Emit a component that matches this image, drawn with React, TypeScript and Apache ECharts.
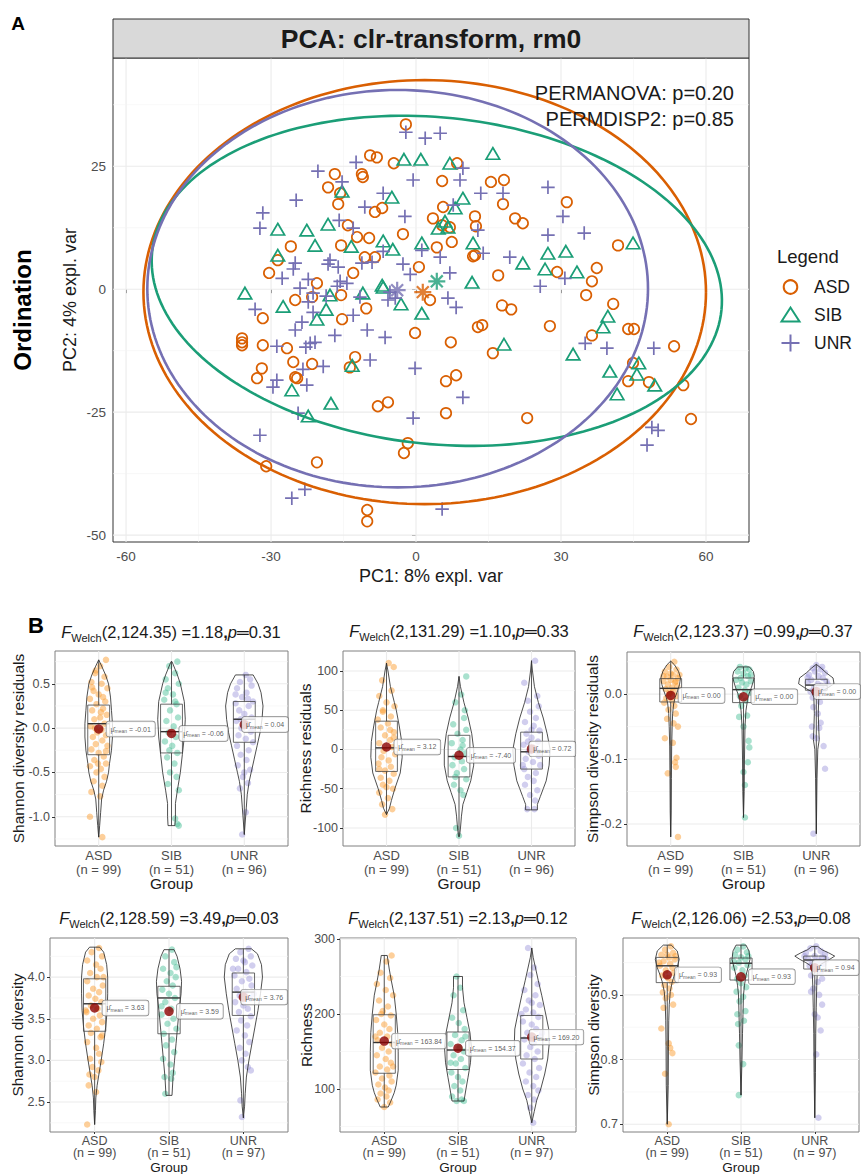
import React, { useEffect, useRef } from 'react';
import * as echarts from 'echarts';

// ================= DATA =================
const GROUPS = ['ASD', 'SIB', 'UNR'];
const PCA_COLORS = ['#D95F02', '#1B9E77', '#7570B3'];
const JITTER_COLORS = ['rgba(250,158,50,0.62)', 'rgba(70,190,150,0.58)', 'rgba(155,150,218,0.58)'];

// Panel A: PCA ordination (PC1, PC2)
const PCA_X_TICKS = [-60, -30, 0, 30, 60];
const PCA_X_MINOR = [-45, -15, 15, 45];
const PCA_Y_TICKS = [-50, -25, 0, 25];
const PCA_Y_MINOR = [-37.5, -12.5, 12.5, 37.5];
const PCA_X_RANGE = [-62.7, 68.9];
const PCA_Y_RANGE = [-51.4, 47.0];

const ASD_PCA = [[-2.1,33.5],[-9.5,27.2],[-8.1,26.8],[-4.6,25.6],[-16.8,23.4],[-11.2,23.4],[-11.0,22.8],[-18.2,20.7],[-15.7,19.5],[-16.1,17.3],[5.4,22.0],[8.5,25.6],[5.6,16.7],[-14.1,13.0],[-12.2,10.6],[-9.7,10.4],[-8.5,15.7],[-7.0,16.5],[3.5,14.4],[7.0,12.6],[12.2,14.8],[12.4,12.8],[-25.9,8.7],[-15.5,8.9],[-10.6,6.5],[-8.5,6.5],[-2.7,11.2],[4.3,8.5],[7.4,9.6],[12.2,6.9],[-28.6,5.9],[-30.4,3.3],[-20.5,1.2],[-13.0,3.3],[0.6,4.5],[-25.0,-2.2],[-31.7,-5.9],[-15.5,-1.2],[-15.3,-6.1],[-10.3,-3.9],[-0.2,-8.9],[7.2,-10.8],[12.8,-7.7],[-36.0,-10.0],[-36.0,-10.8],[-36.0,-11.4],[-31.7,-11.4],[-26.7,-12.0],[-25.4,-14.8],[-21.5,-15.2],[-12.6,-13.8],[-13.7,-15.9],[-31.9,-16.1],[-32.9,-18.1],[-25.0,-17.9],[-7.9,-23.8],[-5.8,-23.0],[6.2,-18.7],[8.3,-17.5],[6.2,-25.2],[-1.7,-31.3],[-2.5,-33.3],[-31.0,-36.0],[-20.5,-35.2],[-10.1,-44.9],[-10.1,-47.2],[15.5,21.8],[18.2,22.2],[18.0,17.3],[31.2,17.7],[20.5,14.4],[22.1,13.4],[41.8,8.9],[29.2,3.5],[37.4,4.3],[17.0,2.8],[36.4,1.6],[35.2,-1.2],[40.8,-3.0],[17.8,-3.3],[19.7,-4.1],[13.7,-7.3],[27.7,-7.5],[15.9,-13.0],[36.4,-9.4],[43.9,-8.1],[45.1,-8.1],[53.4,-11.6],[44.9,-15.0],[43.9,-18.7],[48.2,-18.9],[55.3,-19.5],[23.0,-26.2],[56.9,-26.4],[-24.6,-18.1],[11.8,6.7],[5.4,13.0],[-21.5,-1.6],[2.9,-2.2]];
const SIB_PCA = [[-2.5,26.4],[1.0,26.4],[7.0,25.6],[15.9,27.6],[-15.3,19.9],[-5.0,18.7],[9.7,18.5],[8.1,16.5],[-28.6,12.2],[-22.6,12.0],[-18.2,13.2],[4.6,12.4],[6.0,13.8],[-20.9,8.9],[-13.4,8.7],[-6.8,9.8],[-4.8,8.1],[1.2,9.4],[11.8,9.4],[-28.6,6.9],[11.6,1.4],[-7.0,0.8],[-35.4,-0.8],[-27.5,-3.5],[-17.8,-1.2],[-18.6,-4.1],[-20.5,-6.1],[-11.0,-0.8],[-6.8,0.4],[-3.1,-3.0],[1.2,-4.9],[-13.2,-15.5],[-25.7,-20.5],[-17.6,-23.2],[-22.3,-25.8],[22.1,5.3],[27.3,7.3],[31.0,7.7],[26.7,4.1],[33.3,3.5],[44.9,9.4],[18.2,-11.2],[39.7,-5.5],[38.7,-7.7],[32.5,-13.2],[46.1,-15.0],[40.1,-16.7],[45.7,-17.3],[49.4,-19.5],[41.6,-21.3],[6.6,12.6]];
const UNR_PCA = [[-2.1,31.9],[1.9,30.7],[5.0,31.7],[9.7,24.6],[-12.4,25.8],[-20.3,24.0],[-15.3,21.8],[-0.6,22.2],[9.1,22.2],[-6.8,19.5],[-24.8,18.1],[-10.6,16.7],[7.7,17.1],[-31.7,15.5],[-32.3,12.4],[-15.9,14.0],[-13.0,12.4],[-2.3,14.8],[-6.8,7.7],[1.2,7.9],[-25.0,5.3],[-25.4,4.1],[-27.7,2.2],[-17.8,5.9],[-18.2,5.1],[-16.1,4.5],[-22.3,2.0],[-15.7,1.6],[-14.3,1.2],[-2.7,5.1],[-1.2,3.0],[5.0,6.5],[7.0,3.3],[-9.1,5.5],[-16.3,0.6],[-33.3,-4.1],[-21.3,-0.8],[-22.3,-2.6],[-21.3,-4.7],[-11.6,-1.6],[-13.0,-5.3],[-10.1,-8.3],[6.6,-1.8],[8.3,-3.7],[-6.4,-9.8],[-16.8,-9.4],[-25.0,-8.3],[-23.6,-6.7],[-28.8,-11.6],[-22.8,-11.8],[-21.9,-11.0],[-20.9,-10.8],[-19.2,-15.7],[-9.5,-14.4],[-0.2,-16.1],[-28.8,-18.5],[-29.6,-19.9],[-23.4,-16.3],[-22.6,-19.5],[9.7,-22.0],[-0.6,-26.2],[-24.4,-25.2],[-32.3,-29.7],[-25.7,-42.5],[-23.0,-40.7],[5.4,-44.7],[13.4,19.5],[18.0,19.5],[27.3,20.7],[30.4,14.8],[12.8,12.0],[27.3,11.0],[34.8,11.4],[13.9,7.3],[19.4,6.5],[30.8,2.2],[25.7,0.6],[35.0,-11.0],[39.5,-12.0],[49.2,-12.0],[48.8,-28.1],[50.1,-28.7],[47.8,-31.7],[-11.2,5.3],[-5.4,-0.6],[-4.3,-1.8],[-5.8,-2.2],[-18.6,-1.4],[-24.0,0.2]];
const PCA_CENTROIDS = [[1.4, -0.6], [4.3, 1.6], [-3.9, -0.2]];
// [centerX, centerY, radiusX, radiusY, rotation]
const PCA_ELLIPSES = [[1.8, -0.6, 58.2, 43.1, 0], [4.3, 1.7, 59.2, 33.2, -0.1], [-3.8, 0.1, 51.8, 40.4, 0]];
const PCA_TESTS = ['PERMANOVA: p=0.20', 'PERMDISP2: p=0.85'];

// Panel B: group sizes, Welch test text
const ROW1_N = [99, 51, 96];
const ROW2_N = [99, 51, 97];
const WELCH_ARGS = ['2,124.35', '2,131.29', '2,123.37', '2,128.59', '2,137.51', '2,126.06'];
const WELCH_F = ['1.18', '1.10', '0.99', '3.49', '2.13', '2.53'];
const WELCH_P = ['0.31', '0.33', '0.37', '0.03', '0.12', '0.08'];
const B_Y_TITLES = ['Shannon diversity residuals', 'Richness residuals', 'Simpson diversity residuals', 'Shannon diversity', 'Richness', 'Simpson diversity'];
const B_Y_TICKS = [[-1, -0.5, 0, 0.5], [-100, -50, 0, 50, 100], [-0.2, -0.1, 0], [2.5, 3, 3.5, 4], [100, 200, 300], [0.7, 0.8, 0.9]];
const B_Y_MINOR = [[-1.25, -0.75, -0.25, 0.25, 0.75], [-75, -25, 25, 75], [-0.15, -0.05, 0.05], [2.25, 2.75, 3.25, 3.75, 4.25], [50, 150, 250], [0.75, 0.85, 0.95]];
const B_Y_RANGE = [[-1.33, 0.87], [-123, 125.4], [-0.234, 0.065], [2.14, 4.47], [42.7, 301.3], [0.688, 0.988]];
const B_Y_DECIMALS = [1, 0, 1, 1, 0, 1];

// violin outlines: [value, half-width]
const shannonResViolin = [
  [[0.77,0],[0.7,3],[0.6,7],[0.5,10],[0.35,12],[0.2,13],[0.05,14],[-0.1,14],[-0.25,13],[-0.4,11],[-0.5,10],[-0.6,8],[-0.7,5],[-0.8,3],[-0.95,2],[-1.1,1],[-1.23,0]],
  [[0.75,0.5],[0.6,6],[0.5,9],[0.3,13],[0.1,14],[-0.1,13],[-0.3,11],[-0.5,9],[-0.7,6],[-0.85,4],[-1.0,4],[-1.1,3.5]],
  [[0.6,9],[0.5,14],[0.4,17],[0.25,19],[0.1,18],[-0.05,16],[-0.2,13],[-0.35,10],[-0.5,7],[-0.6,5],[-0.75,3],[-0.9,2],[-1.2,0]],
];
const shannonResBox = [[-1.23, -0.30, 0.05, 0.26, 0.77], [-1.10, -0.28, -0.04, 0.27, 0.75], [-1.20, -0.16, 0.10, 0.30, 0.60]];
const shannonResMean = [-0.01, -0.06, 0.04];
const shannonResPoints = [
  [[0.1,0.77],[0.02,0.7],[-0.05,0.62],[0.08,0.58],[-0.1,0.52],[0.04,0.5],[0.12,0.45],[-0.07,0.42],[0.0,0.38],[-0.12,0.33],[0.09,0.3],[-0.03,0.27],[0.06,0.22],[-0.09,0.2],[0.11,0.15],[0.02,0.12],[-0.06,0.1],[0.08,0.05],[-0.11,0.02],[0.04,-0.02],[-0.02,-0.05],[0.1,-0.08],[-0.08,-0.1],[0.05,-0.14],[-0.04,-0.18],[0.12,-0.2],[-0.1,-0.24],[0.0,-0.28],[0.07,-0.32],[-0.06,-0.36],[0.1,-0.4],[-0.12,-0.43],[0.03,-0.46],[-0.03,-0.5],[0.08,-0.55],[-0.07,-0.6],[0.05,-0.65],[-0.1,-0.72],[0.02,-0.77],[-0.12,-1.0],[0.05,-1.23],[-0.04,0.65],[0.06,0.35],[-0.05,0.0],[0.1,-0.26],[-0.09,0.46],[0.03,0.18],[-0.01,-0.4]],
  [[0.08,0.75],[-0.03,0.7],[0.05,0.62],[-0.08,0.55],[0.1,0.5],[-0.05,0.45],[0.02,0.38],[-0.1,0.32],[0.07,0.27],[-0.02,0.2],[0.09,0.12],[-0.07,0.08],[0.03,0.02],[-0.04,-0.05],[0.06,-0.1],[-0.09,-0.15],[0.01,-0.2],[0.08,-0.28],[-0.06,-0.33],[0.04,-0.4],[-0.02,-0.5],[0.07,-0.55],[-0.05,-0.63],[0.1,-0.7],[0.05,-1.02],[0.08,-1.08],[0.1,-1.1],[-0.08,0.4],[0.05,0.3],[-0.03,-0.25]],
  [[0.02,0.6],[0.08,0.55],[-0.06,0.52],[0.1,0.48],[-0.1,0.45],[0.03,0.4],[-0.03,0.35],[0.12,0.3],[-0.12,0.28],[0.06,0.25],[-0.07,0.2],[0.0,0.16],[0.1,0.12],[-0.11,0.08],[0.04,0.05],[-0.04,0.0],[0.09,-0.04],[-0.08,-0.08],[0.02,-0.12],[0.12,-0.16],[-0.1,-0.2],[0.06,-0.25],[-0.05,-0.3],[0.03,-0.36],[-0.09,-0.42],[0.08,-0.47],[-0.02,-0.55],[0.05,-0.62],[-0.06,-0.68],[0.02,-0.95],[-0.03,-1.2],[0.05,0.33],[-0.05,0.1],[0.1,-0.02],[-0.12,0.38],[0.0,-0.5]],
];

const richnessResViolin = [
  [[110,0],[100,1.5],[80,4],[60,8],[50,10],[30,13],[10,15.5],[-10,16],[-30,14],[-50,8.5],[-65,5],[-75,3],[-83,0]],
  [[93,0],[80,1.5],[60,5],[40,9.5],[20,13],[0,15],[-20,15],[-40,12],[-55,8],[-70,4],[-85,2.5],[-100,1.5],[-111,0.5]],
  [[113,0],[100,1],[80,3],[60,7],[40,12],[20,16],[0,19],[-20,18],[-40,15],[-50,12],[-60,9],[-70,6],[-77,6]],
];
const richnessResBox = [[-83, -28, 2, 36, 110], [-110, -35, -9, 18, 93], [-77, -25, -3, 22, 113]];
const richnessResMean = [3.12, -7.40, 0.72];
const richnessResPoints = [
  [[0.03,110],[0.1,105],[-0.06,88],[0.07,75],[-0.1,68],[0.0,60],[0.11,55],[-0.05,48],[0.06,42],[-0.12,38],[0.02,33],[-0.08,28],[0.1,22],[-0.02,18],[0.05,12],[-0.1,8],[0.08,3],[-0.04,-2],[0.12,-6],[-0.07,-10],[0.03,-14],[-0.11,-18],[0.06,-22],[-0.02,-27],[0.1,-31],[-0.08,-36],[0.04,-40],[-0.05,-45],[0.09,-50],[-0.1,-55],[0.02,-62],[-0.06,-70],[0.08,-76],[-0.02,-83],[0.05,25],[-0.05,50],[0.0,-48],[0.1,15],[-0.1,-25]],
  [[0.1,93],[0.03,70],[-0.05,60],[0.07,40],[-0.08,32],[0.1,25],[-0.02,20],[0.05,12],[-0.1,8],[0.02,0],[0.09,-5],[-0.06,-10],[0.04,-15],[-0.09,-20],[0.07,-25],[-0.03,-30],[0.1,-38],[-0.07,-45],[0.02,-52],[0.06,-58],[-0.04,-100],[0.0,-110],[0.05,5],[-0.05,-35],[0.08,50]],
  [[0.05,113],[-0.1,85],[0.08,68],[-0.05,62],[0.1,55],[-0.02,48],[0.06,40],[-0.09,35],[0.03,30],[0.11,24],[-0.07,20],[0.0,15],[0.09,10],[-0.11,6],[0.04,2],[-0.04,-3],[0.1,-8],[-0.08,-12],[0.02,-16],[0.12,-20],[-0.1,-25],[0.06,-30],[-0.05,-35],[0.03,-40],[-0.09,-45],[0.08,-52],[-0.02,-58],[0.05,-65],[-0.06,-76],[0.04,-76],[0.0,25],[-0.05,10],[0.08,-2],[-0.12,-20]],
];

const simpsonResViolin = [
  [[0.051,0],[0.045,4],[0.035,8],[0.025,10],[0.015,9],[0.005,7],[-0.005,4.5],[-0.015,3],[-0.03,2],[-0.05,1.5],[-0.08,1],[-0.13,0.7],[-0.18,0.5],[-0.22,0]],
  [[0.042,6],[0.035,10],[0.028,11],[0.02,10],[0.01,8],[0.0,5.5],[-0.01,4],[-0.025,2.5],[-0.05,1.5],[-0.1,1],[-0.15,0.7],[-0.19,0]],
  [[0.046,0],[0.04,5],[0.033,10],[0.025,17],[0.016,18],[0.01,12],[0.004,5],[-0.005,2.5],[-0.03,2],[-0.055,2.5],[-0.07,3],[-0.085,1.5],[-0.13,0.7],[-0.215,0]],
];
const simpsonResBox = [[-0.22, -0.012, 0.009, 0.024, 0.051], [-0.19, -0.013, 0.007, 0.025, 0.042], [-0.215, 0.006, 0.014, 0.023, 0.046]];
const simpsonResMean = [-0.002, -0.004, 0.004];
const simpsonResPoints = [
  [[0.05,0.05],[-0.02,0.042],[0.08,0.038],[-0.08,0.035],[0.03,0.03],[-0.05,0.027],[0.1,0.025],[0.0,0.022],[-0.1,0.02],[0.06,0.018],[-0.04,0.015],[0.09,0.012],[0.02,0.01],[-0.07,0.008],[0.04,0.005],[-0.02,0.002],[0.08,-0.003],[-0.06,-0.006],[0.02,-0.01],[-0.09,-0.013],[0.05,-0.018],[-0.03,-0.024],[0.07,-0.03],[-0.05,-0.038],[0.04,-0.045],[0.1,-0.05],[-0.08,-0.068],[0.03,-0.075],[0.08,-0.098],[0.06,-0.105],[0.07,-0.112],[-0.04,-0.122],[0.1,-0.22],[0.0,0.032],[-0.1,0.028],[0.07,0.02],[-0.01,0.0],[0.12,0.03]],
  [[-0.05,0.042],[0.03,0.04],[0.08,0.038],[-0.08,0.035],[0.0,0.032],[0.06,0.028],[-0.04,0.025],[0.1,0.02],[-0.02,0.018],[0.04,0.015],[-0.07,0.01],[0.02,0.006],[0.08,0.002],[-0.05,-0.003],[0.03,-0.01],[-0.03,-0.018],[0.05,-0.033],[-0.06,-0.035],[0.0,-0.05],[0.07,-0.072],[0.08,-0.082],[0.06,-0.105],[0.0,-0.12],[0.02,-0.14],[0.02,-0.19],[0.1,0.03],[-0.1,0.022]],
  [[0.0,0.045],[-0.05,0.04],[0.06,0.038],[0.12,0.033],[-0.1,0.03],[0.03,0.028],[0.09,0.025],[-0.07,0.022],[0.14,0.02],[-0.12,0.018],[0.02,0.016],[0.07,0.013],[-0.03,0.01],[0.1,0.007],[-0.08,0.004],[0.04,0.0],[-0.05,-0.005],[0.05,-0.012],[-0.04,-0.02],[0.02,-0.03],[-0.06,-0.05],[0.04,-0.052],[-0.05,-0.065],[0.0,-0.068],[0.06,-0.044],[0.1,-0.08],[0.12,-0.115],[-0.04,-0.215],[0.08,0.042],[-0.12,0.026],[0.16,0.015],[-0.02,0.035]],
];

const shannonViolin = [
  [[4.36,5],[4.3,9],[4.15,12],[4.0,13],[3.8,13],[3.6,12.5],[3.4,11],[3.2,9],[3.0,6.5],[2.85,4.5],[2.7,2.5],[2.55,1.2],[2.4,0.8],[2.23,0]],
  [[4.33,5],[4.25,8],[4.1,11],[3.95,12.5],[3.8,12],[3.6,10],[3.4,8.5],[3.2,7],[3.0,5.5],[2.8,4],[2.58,3]],
  [[4.34,8],[4.28,14],[4.15,18],[4.0,19],[3.8,17],[3.6,14.5],[3.4,11.5],[3.2,8.5],[3.0,5.5],[2.8,3],[2.6,1.8],[2.45,1.2],[2.31,0]],
];
const shannonBox = [[2.23, 3.35, 3.68, 3.98, 4.36], [2.58, 3.32, 3.75, 3.89, 4.33], [2.31, 3.54, 3.82, 4.05, 4.34]];
const shannonMean = [3.63, 3.59, 3.76];
const shannonPoints = [
  [[0.06,4.35],[-0.04,4.3],[0.1,4.25],[-0.1,4.2],[0.02,4.15],[0.08,4.1],[-0.06,4.05],[0.03,4.0],[-0.1,3.95],[0.11,3.9],[-0.02,3.86],[0.06,3.82],[-0.08,3.78],[0.01,3.74],[0.09,3.7],[-0.05,3.66],[0.04,3.62],[-0.11,3.58],[0.07,3.54],[-0.02,3.5],[0.1,3.46],[-0.08,3.42],[0.03,3.38],[-0.05,3.33],[0.08,3.28],[-0.1,3.22],[0.02,3.15],[0.06,3.08],[-0.06,3.02],[0.09,2.98],[-0.03,2.92],[0.05,2.88],[-0.07,2.83],[0.0,2.8],[-0.08,2.7],[0.02,2.62],[-0.1,2.23],[0.12,4.0],[-0.12,3.6],[0.1,3.3]],
  [[0.04,4.33],[-0.05,4.25],[0.07,4.18],[-0.08,4.1],[0.02,4.05],[0.09,4.0],[-0.03,3.95],[0.05,3.9],[-0.09,3.85],[0.0,3.8],[0.08,3.75],[-0.05,3.7],[0.03,3.62],[-0.1,3.55],[0.06,3.5],[-0.02,3.44],[0.1,3.38],[-0.07,3.32],[0.04,3.25],[-0.04,3.18],[0.07,3.1],[-0.08,3.02],[0.02,2.95],[0.05,2.85],[-0.06,2.8],[0.03,2.78],[-0.05,2.6],[0.1,4.12],[-0.1,3.65]],
  [[0.07,4.34],[-0.04,4.3],[0.1,4.25],[-0.1,4.22],[0.02,4.18],[0.12,4.14],[-0.07,4.1],[0.04,4.06],[-0.12,4.02],[0.08,3.98],[-0.02,3.95],[0.11,3.9],[-0.09,3.86],[0.03,3.82],[-0.05,3.78],[0.09,3.74],[-0.11,3.7],[0.0,3.66],[0.06,3.62],[-0.06,3.58],[0.1,3.53],[-0.03,3.48],[0.05,3.42],[-0.09,3.36],[0.02,3.3],[0.08,3.22],[-0.05,3.15],[0.03,3.08],[-0.02,3.0],[0.06,2.92],[0.1,2.88],[-0.04,2.52],[-0.02,2.32],[-0.14,4.1],[0.14,3.8],[0.0,4.2]],
];

const richnessViolin = [
  [[278,3],[260,5],[245,7],[225,10],[200,12],[175,13.5],[150,14],[125,14],[105,12],[95,10],[85,7],[76,4]],
  [[250,4.5],[235,4.5],[215,6],[195,9],[175,12],[155,13.5],[135,12.5],[115,10],[100,8],[84,6]],
  [[288,0],[275,1.5],[260,4],[245,6.5],[225,10],[200,14],[180,17],[160,17.5],[140,16],[120,13],[100,9],[85,5],[70,2.5],[55,0]],
];
const richnessBox = [[76, 121, 162, 199, 278], [84, 126, 152, 176, 250], [55, 140, 168, 198, 288]];
const richnessMean = [163.84, 154.37, 169.20];
const richnessPoints = [
  [[0.1,278],[0.03,270],[-0.05,255],[0.08,248],[-0.1,240],[0.02,232],[0.12,225],[-0.07,218],[0.05,210],[-0.02,204],[0.09,198],[-0.11,192],[0.0,186],[0.07,180],[-0.06,175],[0.04,170],[-0.09,165],[0.11,160],[-0.03,155],[0.06,150],[-0.1,145],[0.02,140],[0.09,135],[-0.06,130],[0.04,126],[-0.12,122],[0.07,118],[-0.03,114],[0.1,110],[-0.08,106],[0.01,102],[0.06,98],[-0.05,94],[0.03,90],[-0.09,86],[0.08,82],[0.0,76],[-0.12,170],[0.12,130],[-0.04,200]],
  [[-0.02,250],[0.03,235],[-0.06,225],[0.07,205],[-0.08,195],[0.01,188],[0.09,180],[-0.04,172],[0.05,165],[-0.1,160],[0.02,155],[0.08,150],[-0.06,145],[0.04,140],[-0.03,134],[0.1,128],[-0.09,122],[0.0,116],[0.06,110],[-0.05,104],[0.03,98],[-0.08,90],[0.05,86],[-0.02,84],[0.08,84],[0.1,170],[-0.1,135]],
  [[-0.05,288],[0.03,262],[-0.02,252],[0.08,240],[-0.1,232],[0.05,225],[-0.04,218],[0.11,212],[-0.08,206],[0.02,202],[0.09,196],[-0.12,190],[0.0,186],[0.06,180],[-0.06,175],[0.12,170],[-0.1,166],[0.03,162],[-0.02,156],[0.08,150],[-0.07,145],[0.04,140],[-0.12,134],[0.1,128],[-0.03,122],[0.06,116],[-0.08,110],[0.02,104],[0.09,98],[-0.05,92],[0.03,86],[-0.02,75],[0.02,55],[0.14,175],[-0.14,200],[0.0,215]],
];

const simpsonViolin = [
  [[0.977,4],[0.968,10],[0.955,12],[0.942,10],[0.93,7],[0.92,5],[0.905,3],[0.885,2],[0.86,1.5],[0.82,1.2],[0.76,1],[0.7,0]],
  [[0.977,5],[0.968,8],[0.955,9],[0.942,7],[0.93,5],[0.915,3.5],[0.9,2.5],[0.87,2],[0.84,1.5],[0.8,1],[0.745,0]],
  [[0.975,3],[0.97,7],[0.965,14],[0.96,20],[0.955,15],[0.95,9],[0.945,4],[0.935,2.5],[0.915,2],[0.88,1.5],[0.84,1],[0.78,0.7],[0.71,0]],
];
const simpsonBox = [[0.70, 0.919, 0.945, 0.958, 0.977], [0.745, 0.923, 0.949, 0.957, 0.977], [0.71, 0.94, 0.954, 0.96, 0.975]];
const simpsonMean = [0.931, 0.928, 0.942];
const simpsonPoints = [
  [[0.05,0.975],[-0.03,0.97],[0.08,0.965],[-0.08,0.962],[0.02,0.958],[0.1,0.955],[-0.05,0.952],[0.04,0.948],[-0.1,0.945],[0.07,0.942],[-0.02,0.938],[0.09,0.934],[-0.07,0.93],[0.01,0.926],[0.06,0.92],[-0.04,0.915],[0.03,0.91],[-0.06,0.904],[0.05,0.9],[-0.02,0.895],[0.08,0.885],[-0.05,0.88],[-0.08,0.848],[0.02,0.825],[0.04,0.818],[0.07,0.81],[-0.03,0.778],[0.02,0.7],[0.11,0.96],[-0.11,0.95],[0.0,0.962]],
  [[0.03,0.975],[-0.05,0.97],[0.08,0.966],[-0.08,0.962],[0.0,0.958],[0.06,0.955],[-0.03,0.95],[0.09,0.946],[-0.09,0.942],[0.02,0.938],[0.05,0.93],[-0.05,0.925],[0.0,0.918],[0.07,0.912],[-0.06,0.905],[0.03,0.897],[-0.02,0.89],[0.06,0.875],[-0.05,0.87],[0.04,0.86],[-0.04,0.855],[-0.03,0.822],[0.03,0.793],[-0.03,0.745],[0.1,0.96],[-0.1,0.952]],
  [[0.02,0.975],[-0.06,0.972],[0.08,0.968],[-0.12,0.965],[0.14,0.963],[0.0,0.96],[0.1,0.958],[-0.09,0.956],[0.05,0.953],[-0.03,0.95],[0.12,0.948],[-0.07,0.945],[0.03,0.942],[0.08,0.935],[-0.05,0.93],[0.1,0.925],[0.04,0.92],[-0.02,0.91],[0.06,0.9],[-0.05,0.905],[0.1,0.885],[0.0,0.87],[0.04,0.865],[0.08,0.845],[0.02,0.808],[0.05,0.71],[-0.14,0.96],[0.16,0.955]],
];

// ================= LAYOUT / STYLE =================
const FONT = '"Liberation Sans", Arial, Helvetica, sans-serif';
const PCA_GRID = { left: 113, top: 58, width: 636, height: 484 };
const B_GRIDS = [
  { left: 55, top: 651, width: 233, height: 195 },
  { left: 343, top: 651, width: 232, height: 195 },
  { left: 627, top: 652, width: 233, height: 194 },
  { left: 50, top: 938, width: 238, height: 194 },
  { left: 340, top: 938, width: 236, height: 194 },
  { left: 623, top: 938, width: 236, height: 194 },
];
const B_TITLE_POS = [[171, 632], [459, 631], [743, 631], [169, 918], [458, 918], [741, 918]];
const B_YTITLE_X = [18, 305, 592, 17, 306, 593];
const B_GROUP_Y = [883, 883, 883, 1167, 1167, 1167];
const MEAN_LABEL_SHIFT = [0, 0, -10];
const VIOLIN_UNIT = 1 / 74;
const BOX_HALF = 0.15;

const B_DATA = [
  { violin: shannonResViolin, box: shannonResBox, mean: shannonResMean, pts: shannonResPoints },
  { violin: richnessResViolin, box: richnessResBox, mean: richnessResMean, pts: richnessResPoints },
  { violin: simpsonResViolin, box: simpsonResBox, mean: simpsonResMean, pts: simpsonResPoints },
  { violin: shannonViolin, box: shannonBox, mean: shannonMean, pts: shannonPoints },
  { violin: richnessViolin, box: richnessBox, mean: richnessMean, pts: richnessPoints },
  { violin: simpsonViolin, box: simpsonBox, mean: simpsonMean, pts: simpsonPoints },
];

function gridLineSeries(gi: number, xMaj: number[], xMin: number[], yMaj: number[], yMin: number[]) {
  const data: number[][] = [];
  xMaj.forEach((v) => data.push([0, v, 1]));
  xMin.forEach((v) => data.push([0, v, 0]));
  yMaj.forEach((v) => data.push([1, v, 1]));
  yMin.forEach((v) => data.push([1, v, 0]));
  return {
    type: 'custom', xAxisIndex: gi, yAxisIndex: gi, silent: true, z: 1, clip: false,
    encode: { x: 0, y: 1 },
    data,
    renderItem: (params: any, api: any) => {
      const cs = params.coordSys;
      const kind = api.value(0), v = api.value(1), major = api.value(2);
      const style = { stroke: major ? '#EBEBEB' : '#F3F3F3', lineWidth: major ? 1.1 : 0.6 };
      if (kind === 0) {
        const x = api.coord([v, 0])[0];
        return { type: 'line', shape: { x1: x, y1: cs.y, x2: x, y2: cs.y + cs.height }, style };
      }
      const y = api.coord([0, v])[1];
      return { type: 'line', shape: { x1: cs.x, y1: y, x2: cs.x + cs.width, y2: y }, style };
    },
  };
}

function txt(text: string, x: number, y: number, size: number, opts: any = {}) {
  return {
    type: 'text', x, y, rotation: opts.rotation || 0, z: 10,
    style: {
      text, fontSize: size, fontFamily: FONT, fontWeight: opts.weight || 'normal',
      fill: opts.color || '#1A1A1A', align: opts.align || 'center', verticalAlign: 'middle',
      textAlign: opts.align || 'center', textVerticalAlign: 'middle', rich: opts.rich,
    },
  };
}

function buildOption() {
  const grid: any[] = [];
  const xAxis: any[] = [];
  const yAxis: any[] = [];
  const series: any[] = [];
  const graphic: any[] = [];

  // ---------- Panel A ----------
  grid.push({ ...PCA_GRID, show: true, borderColor: '#333', borderWidth: 1, backgroundColor: '#fff' });
  xAxis.push({
    type: 'value', gridIndex: 0, min: PCA_X_RANGE[0], max: PCA_X_RANGE[1],
    axisLine: { show: false }, splitLine: { show: false },
    axisTick: { show: true, customValues: PCA_X_TICKS, length: 4, lineStyle: { color: '#333' } },
    axisLabel: { customValues: PCA_X_TICKS, color: '#4D4D4D', fontSize: 13.5, margin: 7, fontFamily: FONT, formatter: (v: number) => String(v) },
  });
  yAxis.push({
    type: 'value', gridIndex: 0, min: PCA_Y_RANGE[0], max: PCA_Y_RANGE[1],
    axisLine: { show: false }, splitLine: { show: false },
    axisTick: { show: true, customValues: PCA_Y_TICKS, length: 4, lineStyle: { color: '#333' } },
    axisLabel: { customValues: PCA_Y_TICKS, color: '#4D4D4D', fontSize: 13.5, margin: 7, fontFamily: FONT, formatter: (v: number) => String(v) },
  });
  series.push(gridLineSeries(0, PCA_X_TICKS, PCA_X_MINOR, PCA_Y_TICKS, PCA_Y_MINOR));

  const pcaSets = [ASD_PCA, SIB_PCA, UNR_PCA];
  const pcaSymbols: any[] = ['circle', 'triangle', 'path://M0,6L12,6M6,0L6,12'];
  const pcaSizes: any[] = [10.5, [13.5, 11.5], 13.5];
  pcaSets.forEach((pts, g) => {
    series.push({
      type: 'scatter', name: GROUPS[g], xAxisIndex: 0, yAxisIndex: 0, data: pts, z: 3, silent: true,
      symbol: pcaSymbols[g], symbolSize: pcaSizes[g],
      itemStyle: { color: 'rgba(0,0,0,0)', borderColor: PCA_COLORS[g], borderWidth: 1.7, opacity: 1 },
    });
  });
  series.push({
    type: 'scatter', xAxisIndex: 0, yAxisIndex: 0, z: 4, silent: true,
    symbol: 'path://M6,0L6,12M0,6L12,6M1.8,1.8L10.2,10.2M1.8,10.2L10.2,1.8', symbolSize: 17,
    data: PCA_CENTROIDS.map((c, g) => ({ value: c, itemStyle: { color: 'rgba(0,0,0,0)', borderColor: PCA_COLORS[g], borderWidth: 2.2 } })),
  });
  series.push({
    type: 'custom', xAxisIndex: 0, yAxisIndex: 0, z: 5, silent: true, clip: false,
    encode: { x: 0, y: 1 },
    data: PCA_ELLIPSES,
    renderItem: (params: any, api: any) => {
      const e = PCA_ELLIPSES[params.dataIndex];
      const [cx, cy, rx, ry, a] = e;
      const pts: number[][] = [];
      for (let k = 0; k <= 200; k++) {
        const t = (k / 200) * Math.PI * 2;
        const x = cx + rx * Math.cos(t) * Math.cos(a) - ry * Math.sin(t) * Math.sin(a);
        const y = cy + rx * Math.cos(t) * Math.sin(a) + ry * Math.sin(t) * Math.cos(a);
        pts.push(api.coord([x, y]));
      }
      return { type: 'polyline', shape: { points: pts }, style: { fill: 'none', stroke: PCA_COLORS[params.dataIndex], lineWidth: 2.6 } };
    },
  });

  graphic.push(txt('A', 18, 23, 19, { weight: 'bold', color: '#000' }));
  graphic.push({ type: 'rect', z: 9, shape: { x: 113, y: 19, width: 636, height: 39 }, style: { fill: '#D9D9D9', stroke: '#333', lineWidth: 1 } });
  graphic.push(txt('PCA: clr-transform, rm0', 431, 39, 26.5, { weight: 'bold' }));
  graphic.push(txt('Ordination', 22, 310, 24, { weight: 'bold', rotation: Math.PI / 2, color: '#000' }));
  graphic.push(txt('PC2: 4% expl. var', 70, 300, 18, { rotation: Math.PI / 2 }));
  graphic.push(txt('PC1: 8% expl. var', 431, 576, 18));
  graphic.push(txt(PCA_TESTS[0], 734, 93, 20, { align: 'right' }));
  graphic.push(txt(PCA_TESTS[1], 734, 119, 20, { align: 'right' }));
  // legend
  graphic.push(txt('Legend', 777, 256, 18.5, { align: 'left' }));
  const legY = [287, 315, 343];
  GROUPS.forEach((g, i) => graphic.push(txt(g, 814, legY[i], 17.5, { align: 'left' })));
  graphic.push({ type: 'circle', z: 10, shape: { cx: 790.5, cy: 287, r: 6.8 }, style: { fill: 'none', stroke: PCA_COLORS[0], lineWidth: 2 } });
  graphic.push({ type: 'polygon', z: 10, shape: { points: [[781.5, 321.5], [799.5, 321.5], [790.5, 307.5]] }, style: { fill: 'none', stroke: PCA_COLORS[1], lineWidth: 2 } });
  graphic.push({ type: 'line', z: 10, shape: { x1: 781.5, y1: 343, x2: 799.5, y2: 343 }, style: { stroke: PCA_COLORS[2], lineWidth: 2 } });
  graphic.push({ type: 'line', z: 10, shape: { x1: 790.5, y1: 334.5, x2: 790.5, y2: 351.5 }, style: { stroke: PCA_COLORS[2], lineWidth: 2 } });

  // ---------- Panel B ----------
  graphic.push(txt('B', 36, 625, 22, { weight: 'bold', color: '#000' }));
  const titleRich = {
    i: { fontStyle: 'italic', fontSize: 16.5, fontFamily: FONT, fill: '#1A1A1A', lineHeight: 22, verticalAlign: 'middle' },
    s: { fontSize: 11, fontFamily: FONT, fill: '#1A1A1A', lineHeight: 12, verticalAlign: 'bottom' },
    n: { fontSize: 16.5, fontFamily: FONT, fill: '#1A1A1A', lineHeight: 22, verticalAlign: 'middle' },
    c: { fontSize: 16.5, fontFamily: FONT, fontWeight: 'bold', fill: '#1A1A1A', lineHeight: 22, verticalAlign: 'middle' },
  };

  for (let p = 0; p < 6; p++) {
    const gi = p + 1;
    const G = B_GRIDS[p];
    const D = B_DATA[p];
    const row2 = p >= 3;
    const ns = row2 ? ROW2_N : ROW1_N;
    const dec = B_Y_DECIMALS[p];
    grid.push({ ...G, show: true, borderColor: '#808080', borderWidth: 1, backgroundColor: '#fff' });
    xAxis.push({
      type: 'value', gridIndex: gi, min: 0.4, max: 3.6,
      axisLine: { show: false }, splitLine: { show: false },
      axisTick: { show: true, customValues: [1, 2, 3], length: row2 ? 2 : 3, lineStyle: { color: '#333' } },
      axisLabel: {
        customValues: [1, 2, 3], color: '#4D4D4D', fontSize: row2 ? 12.5 : 13, lineHeight: row2 ? 12.5 : 13.5, margin: row2 ? 2.5 : 3, fontFamily: FONT,
        formatter: (v: number) => `${GROUPS[Math.round(v) - 1]}\n(n = ${ns[Math.round(v) - 1]})`,
      },
    });
    yAxis.push({
      type: 'value', gridIndex: gi, min: B_Y_RANGE[p][0], max: B_Y_RANGE[p][1],
      axisLine: { show: false }, splitLine: { show: false },
      axisTick: { show: true, customValues: B_Y_TICKS[p], length: 3, lineStyle: { color: '#333' } },
      axisLabel: { customValues: B_Y_TICKS[p], color: '#4D4D4D', fontSize: 12.5, margin: 5, fontFamily: FONT, formatter: (v: number) => v.toFixed(dec) },
    });
    series.push(gridLineSeries(gi, [1, 2, 3], [], B_Y_TICKS[p], B_Y_MINOR[p]));

    D.pts.forEach((pts: number[][], g: number) => {
      series.push({
        type: 'scatter', xAxisIndex: gi, yAxisIndex: gi, z: 2, silent: true,
        data: pts.map(([dx, y]) => [g + 1 + dx, y]), symbolSize: 6.5,
        itemStyle: { color: JITTER_COLORS[g] },
      });
    });

    // violins
    series.push({
      type: 'custom', xAxisIndex: gi, yAxisIndex: gi, z: 3, silent: true, clip: false,
      encode: { x: 0, y: 1 },
      data: D.box.map((b: number[], g: number) => [g + 1, b[2]]),
      renderItem: (params: any, api: any) => {
        const g = params.dataIndex + 1;
        const prof = D.violin[params.dataIndex];
        const right = prof.map(([y, w]: number[]) => api.coord([g + w * VIOLIN_UNIT, y]));
        const left = prof.slice().reverse().map(([y, w]: number[]) => api.coord([g - w * VIOLIN_UNIT, y]));
        return { type: 'polygon', shape: { points: right.concat(left) }, style: { fill: 'none', stroke: '#222', lineWidth: 0.8 } };
      },
    });

    // boxes
    series.push({
      type: 'custom', xAxisIndex: gi, yAxisIndex: gi, z: 3, silent: true, clip: false,
      encode: { x: 0, y: [1, 2, 3, 4, 5] },
      data: D.box.map((b: number[], g: number) => [g + 1, ...b]),
      renderItem: (params: any, api: any) => {
        const g = api.value(0);
        const lo = api.value(1), q1 = api.value(2), med = api.value(3), q3 = api.value(4), hi = api.value(5);
        const [x0, yq3] = api.coord([g - BOX_HALF, q3]);
        const [x1, yq1] = api.coord([g + BOX_HALF, q1]);
        const xc = api.coord([g, med])[0];
        const ym = api.coord([g, med])[1];
        const yl = api.coord([g, lo])[1];
        const yh = api.coord([g, hi])[1];
        const ls = { stroke: '#333', lineWidth: 0.8 };
        return {
          type: 'group', children: [
            { type: 'line', shape: { x1: xc, y1: yq3, x2: xc, y2: yh }, style: ls },
            { type: 'line', shape: { x1: xc, y1: yq1, x2: xc, y2: yl }, style: ls },
            { type: 'rect', shape: { x: x0, y: yq3, width: x1 - x0, height: yq1 - yq3 }, style: { fill: 'none', stroke: '#444', lineWidth: 0.8 } },
            { type: 'line', shape: { x1: x0, y1: ym, x2: x1, y2: ym }, style: { stroke: '#333', lineWidth: 1.4 } },
          ],
        };
      },
    });

    // means + labels
    series.push({
      type: 'scatter', xAxisIndex: gi, yAxisIndex: gi, z: 6, silent: true,
      data: D.mean.map((m: number, g: number) => ({ value: [g + 1, m], label: { offset: [MEAN_LABEL_SHIFT[g], 0] } })),
      symbolSize: 9.5, itemStyle: { color: '#8B0000' },
      label: {
        show: true, position: 'right', distance: 3,
        backgroundColor: '#fff', borderColor: '#666', borderWidth: 0.7, borderRadius: 2.5, padding: [3, 4, 3, 4],
        formatter: (prm: any) => {
          let s = prm.value[1].toFixed(2);
          if (s === '-0.00') s = '0.00';
          return `{a|μ̂}{b|mean}{a| = ${s}}`;
        },
        rich: {
          a: { fontSize: 7, color: '#333', fontFamily: FONT, lineHeight: 9 },
          b: { fontSize: 5, color: '#333', fontFamily: FONT, lineHeight: 6, verticalAlign: 'bottom' },
        },
      },
    });

    // titles
    const [tx, ty] = B_TITLE_POS[p];
    graphic.push(txt(`{i|F}{s|Welch}{n|(${WELCH_ARGS[p]}) =${WELCH_F[p]}}{c|,}{i|p}{n|═${WELCH_P[p]}}`, tx, ty, 16.5, { rich: titleRich }));
    graphic.push(txt(B_Y_TITLES[p], B_YTITLE_X[p], G.top + G.height / 2, 15.5, { rotation: Math.PI / 2 }));
    graphic.push(txt('Group', G.left + G.width / 2, B_GROUP_Y[p], row2 ? 13.5 : 15.5));
  }

  return { animation: false, backgroundColor: '#fff', grid, xAxis, yAxis, series, graphic };
}

export default function App() {
  const ref = useRef<HTMLDivElement>(null);
  useEffect(() => {
    document.body.style.margin = '0';
    const chart = echarts.init(ref.current as HTMLDivElement, null, { renderer: 'svg' });
    chart.setOption(buildOption() as any);
    return () => chart.dispose();
  }, []);
  return <div ref={ref} style={{ width: 861, height: 1174, background: '#fff' }} />;
}
